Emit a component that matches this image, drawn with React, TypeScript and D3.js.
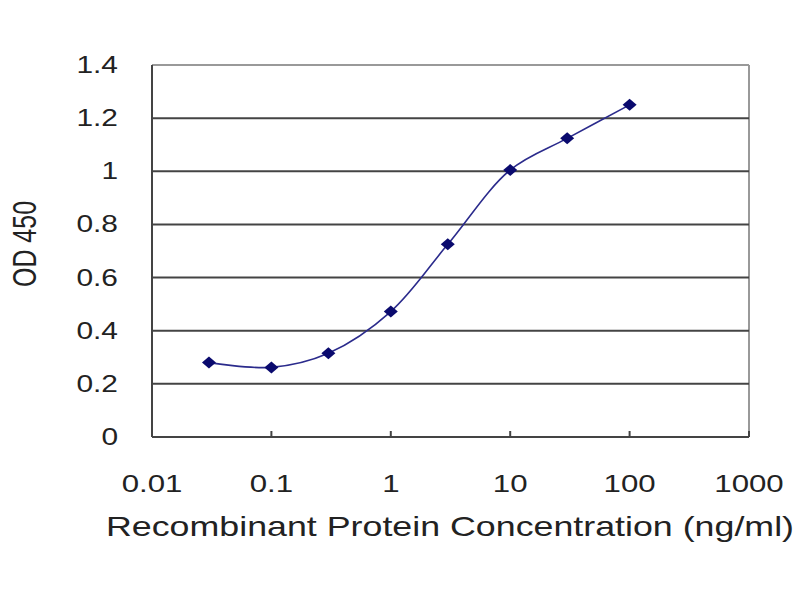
import * as d3 from "d3";

// ELISA standard curve
const concentrations = [0.03, 0.1, 0.3, 1, 3, 10, 30, 100];
const od450 = [0.28, 0.262, 0.315, 0.472, 0.725, 1.005, 1.124, 1.25];

const xTicks = [0.01, 0.1, 1, 10, 100, 1000];
const xTickLabels = ["0.01", "0.1", "1", "10", "100", "1000"];
const yTicks = [0, 0.2, 0.4, 0.6, 0.8, 1, 1.2, 1.4];

const xTitle = "Recombinant Protein Concentration (ng/ml)";
const yTitle = "OD 450";

const width = 800;
const height = 600;
const margin = { top: 65, right: 51, bottom: 163, left: 152 };
const font = "'Liberation Sans', Arial, sans-serif";
const stretch = 1.3; // the source image is stretched sideways

export default function App() {
  const x = d3
    .scaleLog()
    .domain([0.01, 1000])
    .range([margin.left, width - margin.right]);
  const y = d3
    .scaleLinear()
    .domain([0, 1.4])
    .range([height - margin.bottom, margin.top]);

  const points = concentrations.map((c, i) => ({ c, v: od450[i] }));
  const line = d3
    .line<{ c: number; v: number }>()
    .x((d) => x(d.c))
    .y((d) => y(d.v))
    .curve(d3.curveCatmullRom.alpha(0.5));

  const x0 = x.range()[0];
  const x1 = x.range()[1];
  const yBottom = y(0);
  const yTop = y(1.4);

  return (
    <svg
      width={width}
      height={height}
      style={{ position: "absolute", left: 0, top: 0, background: "#fff" }}
    >
      <rect x={0} y={0} width={width} height={height} fill="#fff" />

      {/* plot area frame (top/right) */}
      <line x1={x0} x2={x1} y1={yTop} y2={yTop} stroke="#999" strokeWidth={2} />
      <line x1={x1} x2={x1} y1={yTop} y2={yBottom} stroke="#999" strokeWidth={2} />

      {/* gridlines */}
      {yTicks
        .filter((t) => t > 0 && t < 1.4)
        .map((t) => (
          <line
            key={"g" + t}
            x1={x0}
            x2={x1}
            y1={y(t)}
            y2={y(t)}
            stroke="#444"
            strokeWidth={2}
          />
        ))}

      {/* axes */}
      <line x1={x0} x2={x0} y1={yTop} y2={yBottom} stroke="#444" strokeWidth={2} />
      <line x1={x0} x2={x1} y1={yBottom} y2={yBottom} stroke="#444" strokeWidth={2} />
      {xTicks.map((t) => (
        <line
          key={"xt" + t}
          x1={x(t)}
          x2={x(t)}
          y1={yBottom}
          y2={yBottom - 6}
          stroke="#444"
          strokeWidth={2}
        />
      ))}

      {/* y tick labels */}
      {yTicks.map((t) => (
        <text
          key={"yl" + t}
          transform={`translate(${x0 - 34},${y(t) + 8}) scale(${stretch},1)`}
          textAnchor="end"
          fontFamily={font}
          fontSize={23}
          fill="#222"
        >
          {d3.format("~g")(t)}
        </text>
      ))}

      {/* x tick labels */}
      {xTicks.map((t, i) => (
        <text
          key={"xl" + t}
          transform={`translate(${x(t)},${yBottom + 55}) scale(${stretch},1)`}
          textAnchor="middle"
          fontFamily={font}
          fontSize={24}
          fill="#222"
        >
          {xTickLabels[i]}
        </text>
      ))}

      {/* axis titles */}
      <text
        x={450}
        y={yBottom + 99}
        textAnchor="middle"
        fontFamily={font}
        fontSize={28}
        fill="#222"
        textLength={688}
        lengthAdjust="spacingAndGlyphs"
      >
        {xTitle}
      </text>
      <text
        transform={`translate(36,244) scale(${stretch},1) rotate(-90)`}
        textAnchor="middle"
        fontFamily={font}
        fontSize={25}
        fill="#222"
      >
        {yTitle}
      </text>

      {/* curve and markers */}
      <path d={line(points) ?? ""} fill="none" stroke="#2b2b8c" strokeWidth={1.6} />
      {points.map((d) => {
        const px = x(d.c);
        const py = y(d.v);
        return (
          <path
            key={"m" + d.c}
            d={`M${px},${py - 6}L${px + 7},${py}L${px},${py + 6}L${px - 7},${py}Z`}
            fill="#0a0a6e"
          />
        );
      })}
    </svg>
  );
}
